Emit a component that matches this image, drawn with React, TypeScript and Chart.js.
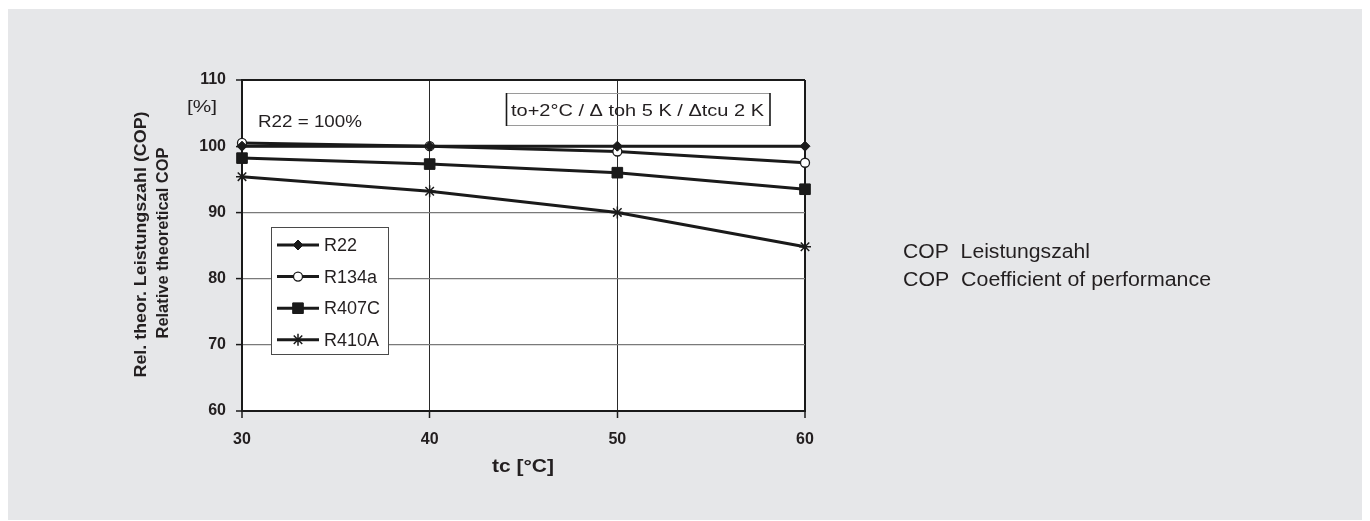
import React, { useEffect, useRef } from "react";
import { Chart, registerables } from "chart.js";
import { drawPoint } from "chart.js/helpers";

Chart.register(...registerables);

// ---- data ----
const tcValues = [30, 40, 50, 60];
const yTickValues = [60, 70, 80, 90, 100, 110];
const seriesNames = ["R22", "R134a", "R407C", "R410A"];
const r22Values = [100, 100, 100, 100];
const r134aValues = [100.5, 100, 99.2, 97.5];
const r407cValues = [98.2, 97.3, 96.0, 93.5];
const r410aValues = [95.4, 93.2, 90.0, 84.8];

const yTitleLines = ["Rel. theor. Leistungszahl (COP)", "Relative theoretical COP"];
const xTitle = "tc [°C]";
const unitLabel = "[%]";
const refLabel = "R22 = 100%";
const conditionLabel = "to+2°C / Δ toh 5 K / Δtcu 2 K";
const sideNotes = ["COP  Leistungszahl", "COP  Coefficient of performance"];

const FONT = "'Liberation Sans', Arial, Helvetica, sans-serif";
const TEXT = "#231f20";
const DARK = "#1a1a1a";
const BG = "#e6e7e9";

function drawText(
  ctx: CanvasRenderingContext2D,
  text: string,
  x: number,
  y: number,
  font: string,
  opts: { align?: CanvasTextAlign; baseline?: CanvasTextBaseline; width?: number; rotate?: number } = {}
) {
  ctx.save();
  ctx.font = font;
  ctx.fillStyle = TEXT;
  ctx.textBaseline = opts.baseline || "middle";
  ctx.textAlign = opts.align || "left";
  const w = ctx.measureText(text).width;
  const sx = opts.width ? opts.width / w : 1;
  ctx.translate(x, y);
  if (opts.rotate) ctx.rotate(opts.rotate);
  ctx.scale(sx, 1);
  ctx.fillText(text, 0, 0);
  ctx.restore();
}

const decorPlugin = {
  id: "decor",
  beforeDraw(chart: any) {
    const { ctx, chartArea: a } = chart;
    ctx.save();
    ctx.fillStyle = BG;
    ctx.fillRect(0, 0, chart.width, chart.height);
    ctx.fillStyle = "#ffffff";
    ctx.fillRect(a.left, a.top, a.right - a.left, a.bottom - a.top);
    ctx.restore();
  },
  afterDraw(chart: any) {
    const ctx: CanvasRenderingContext2D = chart.ctx;
    // y title
    drawText(ctx, yTitleLines[0], 137, 235.5, `bold 17px ${FONT}`, { align: "center", rotate: -Math.PI / 2, width: 266 });
    drawText(ctx, yTitleLines[1], 159, 234, `bold 17px ${FONT}`, { align: "center", rotate: -Math.PI / 2, width: 191 });
    // x title
    drawText(ctx, xTitle, 519, 458, `bold 19px ${FONT}`, { align: "center", width: 62 });
    // unit
    drawText(ctx, unitLabel, 183, 98, `17px ${FONT}`, { width: 30 });
    // reference label
    drawText(ctx, refLabel, 254, 118, `16px ${FONT}`, { baseline: "alphabetic", width: 104 });
    // condition box
    ctx.save();
    ctx.strokeStyle = "#9a9a9a";
    ctx.lineWidth = 1;
    ctx.beginPath();
    ctx.moveTo(502, 84.5);
    ctx.lineTo(766, 84.5);
    ctx.moveTo(502, 116.5);
    ctx.lineTo(766, 116.5);
    ctx.stroke();
    ctx.strokeStyle = DARK;
    ctx.lineWidth = 1.6;
    ctx.beginPath();
    ctx.moveTo(502.5, 84);
    ctx.lineTo(502.5, 117);
    ctx.moveTo(766, 84);
    ctx.lineTo(766, 117);
    ctx.stroke();
    ctx.restore();
    drawText(ctx, conditionLabel, 507, 107, `17px ${FONT}`, { baseline: "alphabetic", width: 253 });
    // side notes
    drawText(ctx, sideNotes[0], 899, 243, `20px ${FONT}`, { width: 187 });
    drawText(ctx, sideNotes[1], 899, 271, `20px ${FONT}`, { width: 308 });

    // legend
    ctx.save();
    ctx.fillStyle = "#ffffff";
    ctx.fillRect(267, 218, 117, 127);
    ctx.strokeStyle = "#4a4a4a";
    ctx.lineWidth = 1;
    ctx.strokeRect(267.5, 218.5, 117, 127);
    ctx.restore();
    chart.data.datasets.forEach((ds: any, i: number) => {
      const cy = 236 + i * 31.6;
      ctx.save();
      ctx.strokeStyle = ds.borderColor;
      ctx.lineWidth = ds.borderWidth;
      ctx.beginPath();
      ctx.moveTo(273, cy);
      ctx.lineTo(315, cy);
      ctx.stroke();
      ctx.fillStyle = ds.pointBackgroundColor;
      ctx.strokeStyle = ds.pointBorderColor;
      ctx.lineWidth = ds.pointBorderWidth;
      drawPoint(ctx, { pointStyle: ds.pointStyle, rotation: 0, borderWidth: ds.pointBorderWidth, radius: ds.pointRadius }, 294, cy);
      ctx.restore();
      drawText(ctx, ds.label, 320, cy + 1, `18px ${FONT}`);
    });
  },
};

function makeDataset(label: string, values: number[], style: string, radius: number, fill: string, bw: number) {
  return {
    label,
    data: tcValues.map((x, i) => ({ x, y: values[i] })),
    borderColor: DARK,
    borderWidth: 3,
    pointStyle: style,
    pointRadius: radius,
    pointBackgroundColor: fill,
    pointBorderColor: DARK,
    pointBorderWidth: bw,
    tension: 0,
    clip: false,
  };
}

export default function App() {
  const canvasRef = useRef<HTMLCanvasElement | null>(null);

  useEffect(() => {
    if (!canvasRef.current) return;
    const chart = new Chart(canvasRef.current, {
      type: "line",
      data: {
        datasets: [
          makeDataset(seriesNames[0], r22Values, "rectRot", 5, DARK, 1),
          makeDataset(seriesNames[1], r134aValues, "circle", 4.5, "#ffffff", 1.3),
          makeDataset(seriesNames[2], r407cValues, "rect", 7.5, DARK, 1),
          makeDataset(seriesNames[3], r410aValues, "star", 6, DARK, 1.5),
        ] as any,
      },
      options: {
        animation: false,
        responsive: false,
        devicePixelRatio: 1,
        layout: { padding: { top: 71, right: 560, left: 0, bottom: 0 } },
        plugins: { legend: { display: false }, tooltip: { enabled: false } },
        scales: {
          x: {
            type: "linear",
            min: 30,
            max: 60,
            afterBuildTicks: (s: any) => {
              s.ticks = tcValues.map((v) => ({ value: v }));
            },
            afterFit: (s: any) => {
              s.height = 110;
            },
            ticks: { font: { family: FONT, size: 16, weight: "bold" }, color: TEXT, padding: 12, maxRotation: 0 },
            grid: {
              color: (c: any) => (c.tick && c.tick.value === 60 ? DARK : "#2a2a2a"),
              lineWidth: (c: any) => (c.tick && (c.tick.value === 60 || c.tick.value === 30) ? 2 : 1),
              tickColor: DARK,
              tickLength: 7,
              tickWidth: 1.5,
              drawTicks: true,
            },
            border: { display: true, color: DARK, width: 2 },
          },
          y: {
            type: "linear",
            min: 60,
            max: 110,
            afterBuildTicks: (s: any) => {
              s.ticks = yTickValues.map((v) => ({ value: v }));
            },
            afterFit: (s: any) => {
              s.width = 238;
            },
            ticks: { font: { family: FONT, size: 16, weight: "bold" }, color: TEXT, padding: 10 },
            grid: {
              color: (c: any) => (c.tick && (c.tick.value === 110 || c.tick.value === 60) ? DARK : "#7a7a7a"),
              lineWidth: (c: any) => (c.tick && (c.tick.value === 110 || c.tick.value === 60) ? 2 : 1.2),
              tickColor: DARK,
              tickLength: 6,
              tickWidth: 1.5,
              drawTicks: true,
            },
            border: { display: true, color: DARK, width: 2 },
          },
        },
      } as any,
      plugins: [decorPlugin],
    });
    return () => chart.destroy();
  }, []);

  return (
    <div style={{ position: "relative", left: -4, top: 1, width: 1361, height: 512, background: BG }}>
      <canvas ref={canvasRef} width={1361} height={512} style={{ display: "block" }} />
    </div>
  );
}
